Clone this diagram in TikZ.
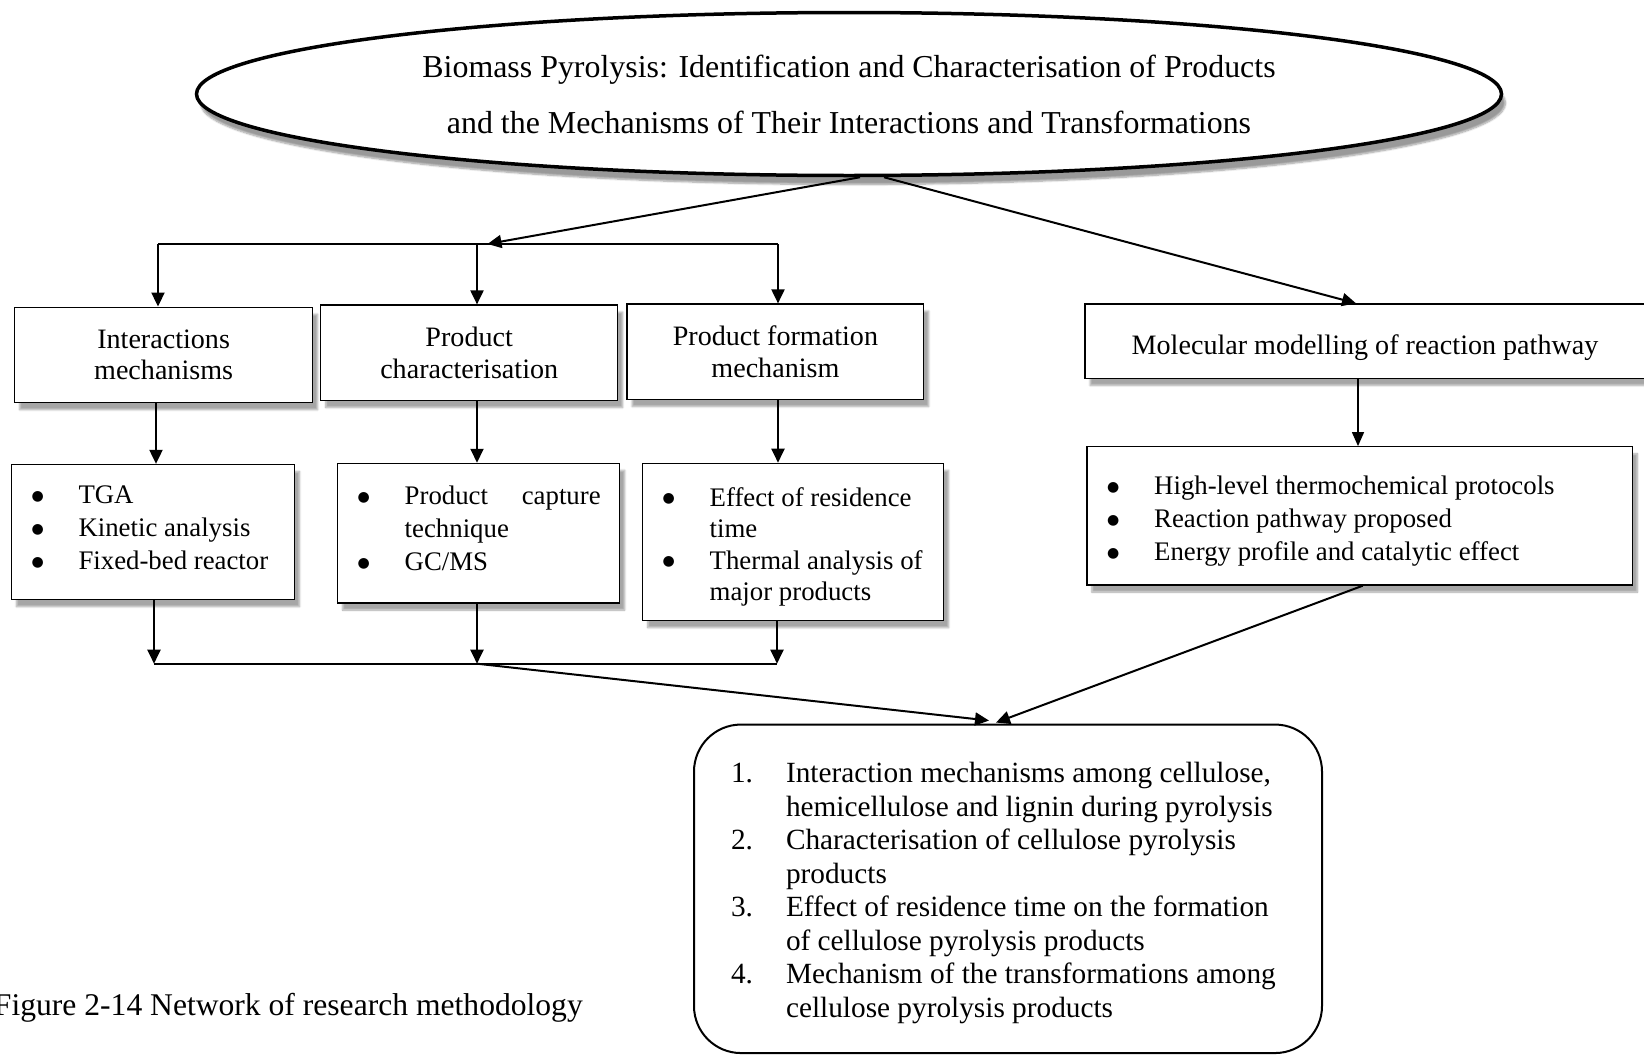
\documentclass[tikz,border=0pt]{standalone}
\usepackage{fontspec}
\setmainfont{Liberation Serif}
\newfontfamily\dejavu{DejaVu Sans}
\usetikzlibrary{arrows.meta,shapes.geometric,calc,shadows.blur}
\newcommand{\shiftdown}[2]{\raisebox{-#1}[\height][\depth]{#2}}
\newcommand{\bul}{\raisebox{3.5pt}{\dejavu\fontsize{14}{14}\selectfont ●}}
\tikzset{
  shad/.style={blur shadow={shadow xshift=5pt, shadow yshift=-7pt, shadow blur steps=6, shadow opacity=35}},
  box/.style={draw, line width=1.3pt, fill=white, inner sep=0pt, shad},
  arr/.style={line width=2pt, -{Triangle[length=14pt,width=13pt]}},
  thinarr/.style={line width=1.4pt, -{Triangle[length=14pt,width=12pt]}},
  ln/.style={line width=2pt},
  headtxt/.style={font=\fontsize{28.1}{31.5}\selectfont},
  txt/.style={font=\fontsize{26.8}{33}\selectfont},
  endbox/.style={draw, line width=2pt, rounded corners=47pt, inner sep=0pt, font=\fontsize{29.3}{33.5}\selectfont}
}
\begin{document}
\begin{tikzpicture}[x=1pt,y=-1pt]
\useasboundingbox (0,0) rectangle (1644,1055);

% title ellipse
\node[ellipse, draw, line width=3.5pt, fill=white, blur shadow={shadow xshift=4pt, shadow yshift=-9pt, shadow blur steps=8, shadow opacity=40},
      minimum width=1305pt, minimum height=163pt, inner sep=0pt, align=center,
      font=\fontsize{31.9}{56}\selectfont] (E) at (849,94)
  {Biomass Pyrolysis: Identification and Characterisation of Products\\and the Mechanisms of Their Interactions and Transformations};

% first row
\node[box, headtxt, align=center, minimum width=298pt, minimum height=95.6pt] (B1) at (163.6,355) {Interactions\\mechanisms};
\node[box, headtxt, align=center, minimum width=297pt, minimum height=95.5pt] (B2) at (469.2,352.8) {Product\\characterisation};
\node[box, headtxt, align=center, minimum width=296.7pt, minimum height=95.5pt] (B3) at (775.4,351.8) {Product formation\\mechanism};
\node[box, headtxt, minimum width=560pt, minimum height=74.5pt] (B4) at (1365,341.2) {\shiftdown{6pt}{Molecular modelling of reaction pathway}};

% second row
\node[box, txt, minimum width=283.1pt, minimum height=135.2pt] (C1) at (153,532.1)
  {\shiftdown{-2pt}{\begin{tabular}{@{}p{47pt}@{}p{196pt}@{}}
   \bul & TGA\\
   \bul & Kinetic analysis\\
   \bul & Fixed-bed reactor
   \end{tabular}}};
\node[box, txt, minimum width=282.1pt, minimum height=139.6pt] (C2) at (478.7,533.2)
  {\shiftdown{-2pt}{\begin{tabular}{@{}p{47pt}@{}p{195pt}@{}}
   \bul & \makebox[196pt][s]{Product\hfill capture}\\
   & technique\\
   \bul & GC/MS
   \end{tabular}}};
\node[box, font=\fontsize{26.8}{31.5}\selectfont, minimum width=301pt, minimum height=157.3pt] (C3) at (793.2,542)
  {\shiftdown{5pt}{\begin{tabular}{@{}p{47pt}@{}p{214pt}@{}}
   \bul & Effect of residence\\
   & time\\
   \bul & Thermal analysis of\\
   & major products
   \end{tabular}}};
\node[box, txt, minimum width=545.5pt, minimum height=138.3pt] (C4) at (1359.7,515.9)
  {\shiftdown{5pt}{\begin{tabular}{@{}p{47pt}@{}p{458pt}@{}}
   \bul & High-level thermochemical protocols\\
   \bul & Reaction pathway proposed\\
   \bul & Energy profile and catalytic effect
   \end{tabular}}};

% final box
\node[endbox, minimum width=628pt, minimum height=328.5pt] (F) at (1008,888.8)
  {\shiftdown{4.7pt}{\begin{tabular}{@{}p{55pt}@{}p{499pt}@{}}
   1. & Interaction mechanisms among cellulose,\\
      & hemicellulose and lignin during pyrolysis\\
   2. & Characterisation of cellulose pyrolysis\\
      & products\\
   3. & Effect of residence time on the formation\\
      & of cellulose pyrolysis products\\
   4. & Mechanism of the transformations among\\
      & cellulose pyrolysis products
   \end{tabular}}};

% caption
\node[font=\fontsize{31.6}{36}\selectfont, anchor=east, inner sep=0pt] (cap) at (583,1008) {Figure 2-14 Network of research methodology};

% connectors: ellipse to first row
\coordinate (bL) at (158,244);
\coordinate (bM) at (477,244);
\coordinate (bR) at (778,244);
\coordinate (bT) at (487.5,244);
\draw[ln] (bL) -- (bR);
\draw[arr] (bL) -- (bL |- B1.north);
\draw[arr] (bM) -- (bM |- B2.north);
\draw[arr] (bR) -- (bR |- B3.north);
\draw[arr] ($(E.south)+(11,0)$) -- (bT);
\draw[arr] ($(E.south)+(35,0)$) -- ($(B4.north)+(-9,0)$);

% first row to second row
\coordinate (k1) at (156,0);
\coordinate (k2) at (477,0);
\coordinate (k3) at (778,0);
\coordinate (k4) at (1358,0);
\draw[arr] (k1 |- B1.south) -- (k1 |- C1.north);
\draw[arr] (k2 |- B2.south) -- (k2 |- C2.north);
\draw[arr] (k3 |- B3.south) -- (k3 |- C3.north);
\draw[thinarr] (k4 |- B4.south) -- (k4 |- C4.north);

% second row to final box
\coordinate (dL) at (154,663.7);
\coordinate (dM) at (477,663.7);
\coordinate (dR) at (777,663.7);
\draw[arr] (dL |- C1.south) -- (dL);
\draw[arr] (dM |- C2.south) -- (dM);
\draw[arr] (dR |- C3.south) -- (dR);
\draw[ln] (dL) -- (dR);
\draw[arr] (dM) -- ($(F.north)+(-19,-3)$);
\draw[arr] ($(C4.south)+(3,0)$) -- ($(F.north)+(-12,-1)$);
\end{tikzpicture}
\end{document}
